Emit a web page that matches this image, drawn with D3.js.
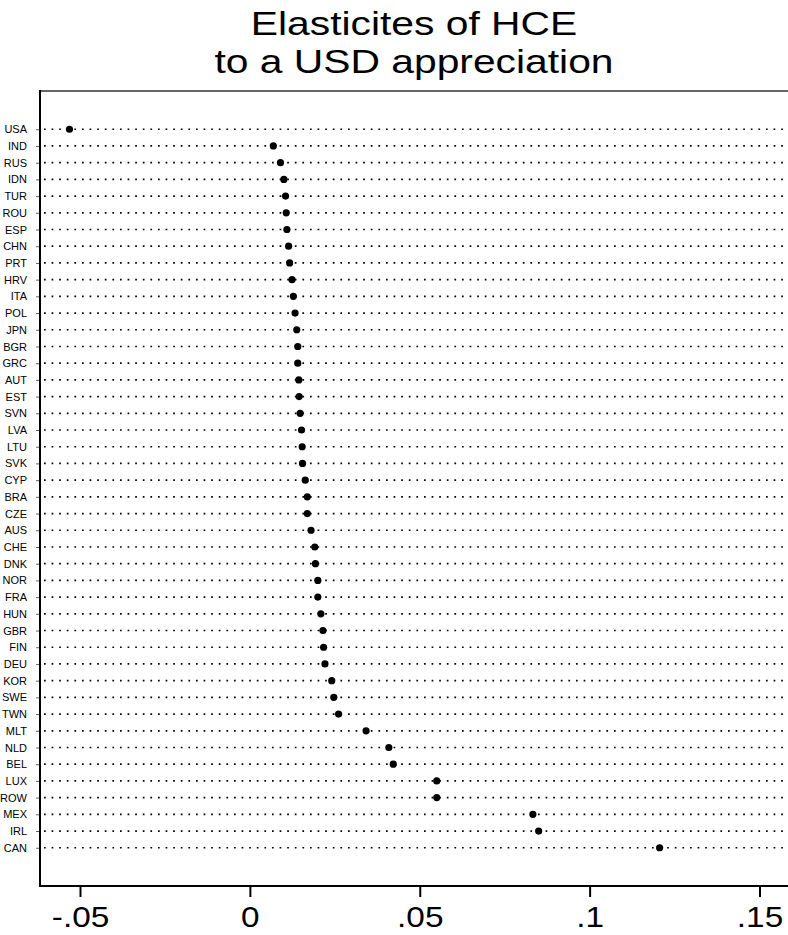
<!DOCTYPE html>
<html>
<head>
<meta charset="utf-8">
<script src="https://cdn.jsdelivr.net/npm/d3@7"></script>
<style>
  body { margin: 0; background: #fff; }
  text { font-family: "Liberation Sans", Arial, Helvetica, sans-serif; fill: #000; }
</style>
</head>
<body>
<svg width="788" height="935"></svg>
<script>
//Countries, from top to bottom of the chart
let countries = ["USA", "IND", "RUS", "IDN", "TUR", "ROU", "ESP", "CHN", "PRT", "HRV", "ITA",
  "POL", "JPN", "BGR", "GRC", "AUT", "EST", "SVN", "LVA", "LTU", "SVK", "CYP", "BRA", "CZE",
  "AUS", "CHE", "DNK", "NOR", "FRA", "HUN", "GBR", "FIN", "DEU", "KOR", "SWE", "TWN", "MLT",
  "NLD", "BEL", "LUX", "ROW", "MEX", "IRL", "CAN"];
//Elasticity of each country (same order)
let elasticities = [-0.0531, 0.0069, 0.0090, 0.0100, 0.0105, 0.0107, 0.0109, 0.0114, 0.0117, 0.0124, 0.0128,
  0.0133, 0.0138, 0.0141, 0.0141, 0.0144, 0.0145, 0.0148, 0.0152, 0.0154, 0.0155, 0.0163, 0.0169, 0.0169,
  0.0180, 0.0191, 0.0193, 0.0200, 0.0200, 0.0209, 0.0215, 0.0217, 0.0221, 0.0241, 0.0247, 0.0261, 0.0342,
  0.0409, 0.0422, 0.0550, 0.0550, 0.0833, 0.0850, 0.1206];
//Ticks and labels of the x axis
let xTicks = [-0.05, 0, 0.05, 0.1, 0.15];
let xTickLabels = ["-.05", "0", ".05", ".1", ".15"];
let titleLines = ["Elasticites of HCE", "to a USD appreciation"];

let svg = d3.select("svg"),
    width = +svg.attr("width"),
    plot = {left: 40, top: 91, bottom: 886, right: 800};

let x = d3.scaleLinear().domain([-0.05, 0.15]).range([80, 759.5]);
let y = d3.scalePoint().domain(countries).range([plot.top, plot.bottom]).padding(2.29);

//Title, centered over the plot area (the original font is a bit wide, so stretch it)
svg.append("g")
   .selectAll("text")
   .data(titleLines)
   .enter().append("text")
   .attr("transform", (d, i) => "translate(" + (plot.left + width) / 2 + "," + (35 + i * 38) + ") scale(1.2,1)")
   .attr("text-anchor", "middle")
   .attr("font-size", "34px")
   .text(d => d);

//Dotted guide line for every country
svg.append("g")
   .selectAll("line")
   .data(countries)
   .enter().append("line")
   .attr("x1", 44)
   .attr("x2", 792)
   .attr("y1", d => y(d))
   .attr("y2", d => y(d))
   .attr("stroke", "#000")
   .attr("stroke-width", 1.7)
   .attr("stroke-dasharray", "1.7,5.9");

//Plot frame: top border thin, left and bottom axes thick
svg.append("line")
   .attr("x1", plot.left).attr("x2", plot.right)
   .attr("y1", plot.top).attr("y2", plot.top)
   .attr("stroke", "#333").attr("stroke-width", 1.5);

//Y axis with short ticks and country names
let yAxis = d3.axisLeft(y).tickSize(4).tickPadding(9);
let gy = svg.append("g")
   .attr("transform", "translate(" + plot.left + ",0)")
   .call(yAxis);
gy.select(".domain").remove();
gy.selectAll(".tick line").attr("stroke", "#666").attr("stroke-width", 1);
gy.selectAll(".tick text").attr("font-size", "11px").attr("font-family", null);
gy.append("line")
   .attr("x1", 0).attr("x2", 0)
   .attr("y1", plot.top - 1).attr("y2", plot.bottom + 1)
   .attr("stroke", "#000").attr("stroke-width", 2);

//X axis
let xAxis = d3.axisBottom(x).tickValues(xTicks).tickSize(11).tickPadding(10)
              .tickFormat((d, i) => xTickLabels[i]);
let gx = svg.append("g")
   .attr("transform", "translate(0," + plot.bottom + ")")
   .call(xAxis);
gx.select(".domain").remove();
gx.selectAll(".tick line").attr("stroke", "#000").attr("stroke-width", 2);
//Tick labels are also drawn a little wider, like the original
gx.selectAll(".tick text")
   .attr("font-size", "29px")
   .attr("font-family", null)
   .attr("y", null).attr("dy", null)
   .attr("transform", "translate(0,41) scale(1.15,1)");
gx.append("line")
   .attr("x1", plot.left - 1).attr("x2", plot.right)
   .attr("y1", 0).attr("y2", 0)
   .attr("stroke", "#000").attr("stroke-width", 2);

//The markers
svg.append("g")
   .selectAll("circle")
   .data(elasticities)
   .enter().append("circle")
   .attr("cx", d => x(d))
   .attr("cy", (d, i) => y(countries[i]))
   .attr("r", 3.6)
   .attr("fill", "#000");
</script>
</body>
</html>
